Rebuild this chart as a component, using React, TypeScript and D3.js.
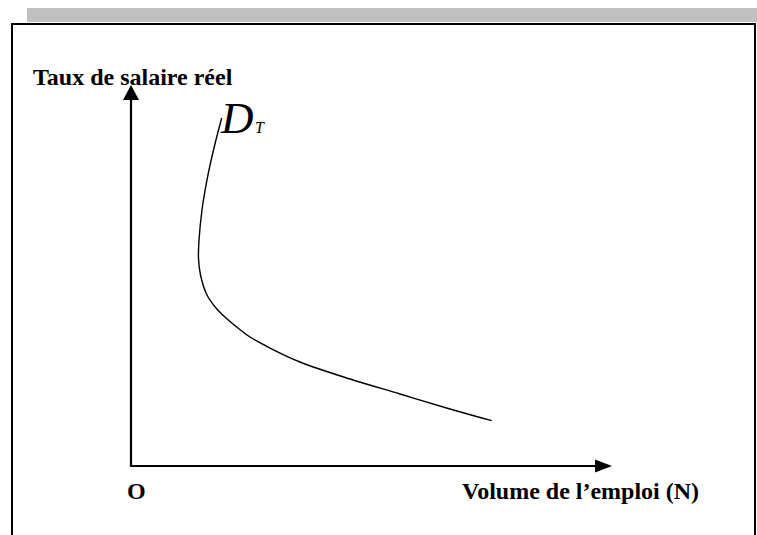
import React from "react";
import * as d3 from "d3";

// Demand-for-labour curve D_T: employment volume N (x) vs real wage rate (y), arbitrary units 0..100
const curveN = [18.86, 17.15, 15.8, 14.76, 14.14, 14.03, 14.45, 15.8, 17.67, 19.75, 22.25, 24.74, 28.9, 35.14, 45.53, 55.93, 66.32, 74.99];
const curveW = [91.34, 82.94, 75.07, 67.19, 59.32, 54.59, 50.13, 44.88, 41.47, 38.85, 36.22, 33.86, 30.97, 27.3, 22.83, 18.9, 14.96, 11.89];

const yAxisTitle = "Taux de salaire réel";
const xAxisTitle = "Volume de l\u2019emploi (N)";
const originLabel = "O";
const curveLabel = "D";
const curveSub = "T";

const W = 757;
const H = 535;
const FONT = "'Liberation Serif', 'Times New Roman', Times, serif";

export default function App() {
  const x = d3.scaleLinear().domain([0, 100]).range([131, 612]);
  const y = d3.scaleLinear().domain([0, 100]).range([466, 85]);

  const pts: [number, number][] = curveN.map((n, i) => [n, curveW[i]]);
  const line = d3
    .line<[number, number]>()
    .x((d) => x(d[0]))
    .y((d) => y(d[1]))
    .curve(d3.curveCatmullRom.alpha(0.5));

  const x0 = x(0);
  const y0 = y(0);
  const xEnd = x(100);
  const yEnd = y(100);

  return (
    <svg
      width={W}
      height={H}
      style={{ position: "absolute", left: 0, top: 0, background: "#fff" }}
    >
      <rect x={0} y={0} width={W} height={H} fill="#fff" />
      {/* gray header bar */}
      <rect x={27} y={8} width={W - 27} height={14} fill="#c0c0c0" />
      {/* frame */}
      <path
        d={`M12,${H + 5} L12,24 L755,24 L755,${H + 5}`}
        fill="none"
        stroke="#000"
        strokeWidth={2}
      />
      {/* axes */}
      <line x1={x0} y1={y0} x2={x0} y2={yEnd + 14} stroke="#000" strokeWidth={2.2} />
      <line x1={x0 - 1.1} y1={y0} x2={xEnd - 16} y2={y0} stroke="#000" strokeWidth={2.2} />
      <path
        d={`M${x0},${yEnd} L${x0 - 8},${yEnd + 15} L${x0 + 8},${yEnd + 15} Z`}
        fill="#000"
      />
      <path
        d={`M${xEnd},${y0} L${xEnd - 17},${y0 - 6.5} L${xEnd - 17},${y0 + 6.5} Z`}
        fill="#000"
      />
      {/* curve */}
      <path d={line(pts) || ""} fill="none" stroke="#000" strokeWidth={1.4} />
      {/* labels */}
      <text x={33} y={85} fontFamily={FONT} fontWeight="bold" fontSize={24}>
        {yAxisTitle}
      </text>
      <text x={127} y={499} fontFamily={FONT} fontWeight="bold" fontSize={24}>
        {originLabel}
      </text>
      <text x={462} y={499} fontFamily={FONT} fontWeight="bold" fontSize={24}>
        {xAxisTitle}
      </text>
      <text x={221} y={133} fontFamily={FONT} fontStyle="italic" fontSize={45}>
        {curveLabel}
      </text>
      <text x={255} y={133} fontFamily={FONT} fontStyle="italic" fontSize={16}>
        {curveSub}
      </text>
    </svg>
  );
}
